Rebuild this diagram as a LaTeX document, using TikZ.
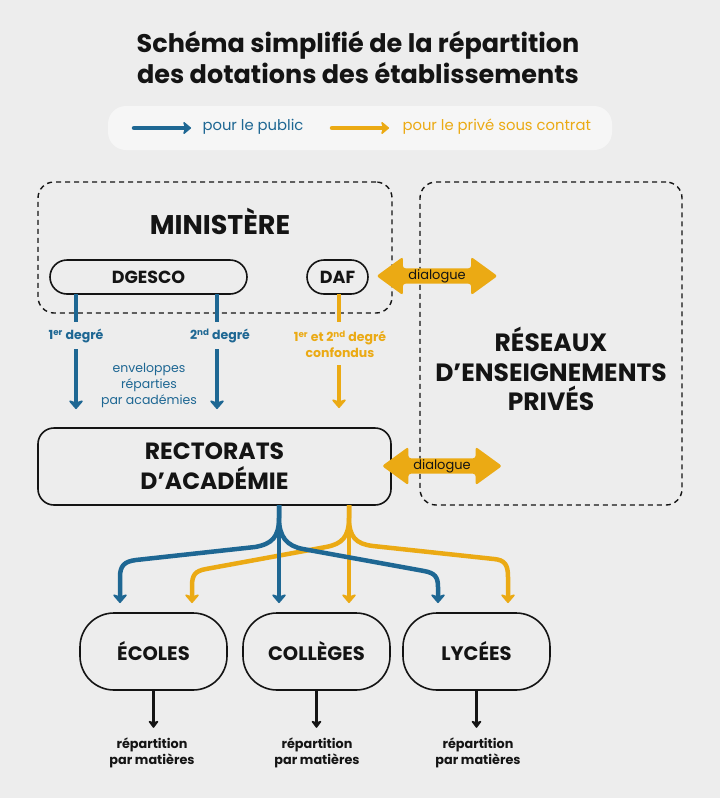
\documentclass[tikz,border=0pt]{standalone}
\usepackage{fontspec}
\setmainfont{Poppins}
\usetikzlibrary{arrows.meta,shapes.arrows}
\definecolor{bg}{HTML}{EDEDED}
\definecolor{legbg}{HTML}{F6F6F6}
\definecolor{pub}{HTML}{1E6793}
\definecolor{priv}{HTML}{EBAA14}
\definecolor{ink}{HTML}{141414}
\begin{document}
\begin{tikzpicture}[x=1pt,y=-1pt,
  box/.style={draw=ink,line width=1.6pt,rounded corners=16pt,inner sep=0pt},
  dashbox/.style={draw=ink,line width=1.4pt,dash pattern=on 5pt off 4pt,rounded corners=16pt,inner sep=0pt},
  pill/.style={draw=ink,line width=1.6pt,rounded corners=17pt,minimum height=34pt,inner sep=0pt,text=ink,font=\bfseries\fontsize{17.5}{20}\selectfont},
  big/.style={font=\bfseries\fontsize{23.5}{30}\selectfont,align=center,text=ink},
  school/.style={draw=ink,line width=1.6pt,rounded corners=34pt,minimum width=147pt,minimum height=77pt,inner sep=0pt,text=ink,font=\bfseries\fontsize{19.5}{22}\selectfont},
  flowtip/.style={-{Stealth[length=10pt,width=17pt,inset=3pt,round]}},
  pubflow/.style={draw=pub,line width=4.5pt,flowtip},
  privflow/.style={draw=priv,line width=4.5pt,flowtip},
  publine/.style={draw=pub,line width=4.5pt},
  privline/.style={draw=priv,line width=4.5pt},
  inkflow/.style={draw=ink,line width=3pt,-{Stealth[length=8pt,width=12pt,inset=2pt,round]}},
  deglabel/.style={font=\bfseries\fontsize{12.5}{14}\selectfont,inner sep=6pt,align=center},
  dialog/.style={double arrow,fill=priv,double arrow head extend=11.5pt,double arrow tip angle=72,
    text height=9pt,text depth=3pt,inner ysep=1.5pt,inner xsep=0pt,rounded corners=2.5pt,
    font=\fontsize{13}{14}\selectfont,text=ink},
  small/.style={font=\fontsize{12.5}{16}\selectfont,align=center},
  rep/.style={font=\bfseries\fontsize{12.8}{16}\selectfont,align=center,text=ink,inner sep=2pt}
]
% background / canvas
\fill[bg] (0,0) rectangle (720,798);
\useasboundingbox (0,0) rectangle (720,798);

% title
\node[big,font=\bfseries\fontsize{25.5}{31}\selectfont] (title) at (358,57) {Schéma simplifié de la répartition\\ des dotations des établissements};

% legend
\node[fill=legbg,rounded corners=18pt,minimum width=504pt,minimum height=44pt,inner sep=0pt] (legend) at (360,128) {};
\coordinate (lpA) at (134,128);
\coordinate (lpB) at (191,128);
\coordinate (lyA) at (332,128);
\coordinate (lyB) at (389,128);
\draw[pubflow,line cap=round,-{Stealth[length=9pt,width=15pt,inset=2.5pt,round]}] (lpA) -- (lpB);
\draw[privflow,line cap=round,-{Stealth[length=9pt,width=15pt,inset=2.5pt,round]}] (lyA) -- (lyB);
\node[anchor=west,text=pub,font=\fontsize{14.8}{16}\selectfont] (lpT) at (199,127) {pour le public};
\node[anchor=west,text=priv,font=\fontsize{14.8}{16}\selectfont] (lyT) at (399,127) {pour le privé sous contrat};

% ministere
\node[dashbox,minimum width=354pt,minimum height=131pt] (minbox) at (215,247.5) {};
\node[big,font=\bfseries\fontsize{27}{30}\selectfont] (minT) at (220,221) {MINISTÈRE};
\node[pill,minimum width=197pt] (dgesco) at (148.5,277) {DGESCO};
\node[pill,minimum width=61pt] (daf) at (337.5,277) {DAF};

% reseaux
\node[dashbox,minimum width=262pt,minimum height=323pt] (reseaux) at (551,343.5) {};
\node[big,font=\bfseries\fontsize{25}{29.5}\selectfont] (resT) at (551,369) {RÉSEAUX\\D’ENSEIGNEMENTS\\PRIVÉS};

% rectorats
\node[box,minimum width=353pt,minimum height=77pt,big] (rect) at (214.5,466.5) {RECTORATS\\D’ACADÉMIE};

% degree labels
\node[deglabel,text=pub] (l1) at (76,336) {1\textsuperscript{er} degré};
\node[deglabel,text=pub] (l2) at (220,336) {2\textsuperscript{nd} degré};
\node[deglabel,text=priv,font=\bfseries\fontsize{12.5}{16}\selectfont] (l3) at (340,344) {1\textsuperscript{er} et 2\textsuperscript{nd} degré\\confondus};
\coordinate (a1) at (76,409);
\coordinate (a2) at (217,409);
\coordinate (a3) at (339,408);
\coordinate (s1) at (76,294);
\coordinate (s2) at (217,294);
\coordinate (s3) at (339,294);
\coordinate (m1) at (76,322);
\coordinate (m2) at (217,322);
\coordinate (m3) at (339,322);
\coordinate (n1) at (76,349);
\coordinate (n2) at (217,349);
\coordinate (n3) at (339,365);
\draw[publine] (s1) -- (m1);
\draw[publine] (s2) -- (m2);
\draw[privline] (s3) -- (m3);
\draw[pubflow] (n1) -- (a1);
\draw[pubflow] (n2) -- (a2);
\draw[privflow] (n3) -- (a3);
\node[small,text=pub] (env) at (149,385) {enveloppes\\réparties\\par académies};

% dialogue arrows
\node[dialog,minimum height=121pt] (dlg1) at (437,276) {dialogue};
\node[dialog,minimum height=120pt] (dlg2) at (442,466) {dialogue};

% schools
\node[school] (ecoles) at (153.5,651.5) {ÉCOLES};
\node[school] (colleges) at (316.5,651.5) {COLLÈGES};
\node[school] (lycees) at (476.5,651.5) {LYCÉES};

% tree
\coordinate (bS) at (279,505);
\coordinate (yS) at (349,505);
\coordinate (bL) at (120,603);
\coordinate (bM) at (279,603);
\coordinate (bR) at (438,603);
\coordinate (yL) at (192,603);
\coordinate (yM) at (349,603);
\coordinate (yR) at (508,603);
\draw[privflow] (yS) -- (349,518) .. controls (349,537) and (342,544) .. (326,547) -- (206,569) .. controls (195,571) and (192,575) .. (192,586) -- (yL);
\draw[privflow] (yS) -- (349,518) .. controls (349,537) and (356,544) .. (373,546) -- (494,559) .. controls (505,560) and (508,565) .. (508,577) -- (yR);
\draw[privflow] (yS) -- (yM);
\draw[pubflow] (bS) -- (279,518) .. controls (279,537) and (272,544) .. (255,547) -- (136,560) .. controls (124,561.5) and (120,566) .. (120,577) -- (bL);
\draw[pubflow] (bS) -- (279,518) .. controls (279,537) and (287,546) .. (303,549) -- (424,571) .. controls (435,573) and (438,577) .. (438,587) -- (bR);
\draw[pubflow] (bS) -- (bM);

% repartition
\node[rep] (r1) at (152,753) {répartition\\par matières};
\node[rep] (r2) at (317,753) {répartition\\par matières};
\node[rep] (r3) at (478,753) {répartition\\par matières};
\draw[inkflow] (ecoles.south) -- ([yshift=8pt]r1.north -| ecoles.south);
\draw[inkflow] (colleges.south) -- ([yshift=8pt]r2.north -| colleges.south);
\draw[inkflow] (lycees.south) -- ([yshift=8pt]r3.north -| lycees.south);
\end{tikzpicture}
\end{document}
